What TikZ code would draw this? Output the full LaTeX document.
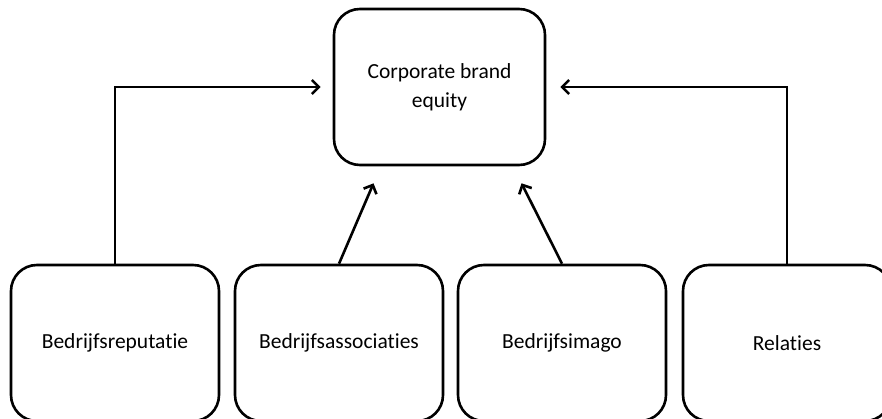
\documentclass[tikz,border=0pt]{standalone}
\usepackage{fontspec}
\setmainfont[Ligatures={NoCommon}]{Carlito}
\usetikzlibrary{arrows.meta,calc}
\begin{document}
\begin{tikzpicture}[x=1pt,y=1pt,
  box/.style={draw=black, line width=2.6pt, rounded corners=26pt, fill=white,
    minimum width=208pt, minimum height=156pt, inner sep=0pt,
    font=\fontsize{21.5}{29}\selectfont, align=center},
  link/.style={draw=black, line width=2.6pt,
    -{Straight Barb[length=7pt,width=14pt,line width=2.6pt]}}]
  \useasboundingbox (0,0) rectangle (882,418);

  % central concept
  \node[box, minimum width=211pt] (cbe) at (439.5,331) {Corporate brand\\equity};

  % contributing dimensions (cut by the lower edge)
  \node[box] (rep) at (115,75)   {Bedrijfsreputatie};
  \node[box] (ass) at (339,75)   {Bedrijfsassociaties};
  \node[box] (ima) at (562,75)   {Bedrijfsimago};
  \node[box] (rel) at (787,75)   {Relaties};

  % arrow end points just off the central box
  \coordinate (tipL) at ($(cbe.west)+(-12,0)$);
  \coordinate (tipR) at ($(cbe.east)+(14,0)$);
  \coordinate (tipA) at ($(cbe.south)+(-66,-17)$);
  \coordinate (tipI) at ($(cbe.south)+(82,-17)$);

  \draw[link] (rep.north) |- (tipL);
  \draw[link] (rel.north) |- (tipR);
  \draw[link] (ass.north) -- (tipA);
  \draw[link] (ima.north) -- (tipI);
\end{tikzpicture}
\end{document}
